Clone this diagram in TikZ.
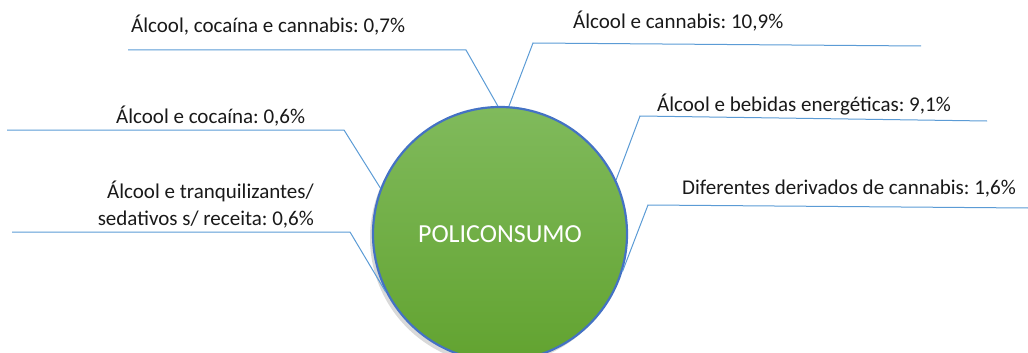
\documentclass[tikz,border=0pt]{standalone}
\usepackage{fontspec}
\setmainfont{Carlito}
\usetikzlibrary{shadows}
\definecolor{leaderblue}{RGB}{91,155,213}
\definecolor{rimblue}{RGB}{68,114,196}
\definecolor{topgreen}{RGB}{128,186,92}
\definecolor{botgreen}{RGB}{98,163,48}
\frenchspacing
\begin{document}
\begin{tikzpicture}[x=1pt,y=-1pt,
	leader/.style={leaderblue,line width=1pt},
	lbl/.style={inner sep=0pt,font=\fontsize{21}{27}\selectfont,text=black!90},
	hub/.style={circle,minimum size=254pt,inner sep=0pt,draw=rimblue,line width=2.2pt,
		top color=topgreen,bottom color=botgreen,text=white,
		font=\fontsize{26}{30}\selectfont,
		drop shadow={shadow xshift=-3pt,shadow yshift=-4pt,opacity=0.3}}]
\useasboundingbox (0,0) rectangle (1028,353);
\node (pc) [hub] at (500,234) {POLICONSUMO};
% labels
\node (t1) [lbl,anchor=base west] at (131,33) {Álcool, cocaína e cannabis: 0,7\%};
\node (t2) [lbl,anchor=base west] at (573,29) {Álcool e cannabis: 10,9\%};
\node (t3) [lbl,anchor=base west] at (657,111) {Álcool e bebidas energéticas: 9,1\%};
\node (t4) [lbl,anchor=base west] at (682,194) {Diferentes derivados de cannabis: 1,6\%};
\node (t5) [lbl,anchor=base west] at (116,123) {Álcool e cocaína: 0,6\%};
\node (t6) [lbl,anchor=base east,align=right] at (314,225) {Álcool e tranquilizantes/\\sedativos s/ receita: 0,6\%};
% leader lines
\coordinate (e1) at (466,50);  \coordinate (f1) at (128,50);
\coordinate (e2) at (533,43);  \coordinate (f2) at (921,46);
\coordinate (e3) at (640,116); \coordinate (f3) at (987,121);
\coordinate (e4) at (648,205); \coordinate (f4) at (1028,208);
\coordinate (e5) at (344,130); \coordinate (f5) at (7,130);
\coordinate (e6) at (350,232); \coordinate (f6) at (12,232);
\draw [leader] (pc.91) -- (e1) -- (f1);
\draw [leader] (pc.86) -- (e2) -- (f2);
\draw [leader] (pc.25) -- (e3) -- (f3);
\draw [leader] (pc.-17) -- (e4) -- (f4);
\draw [leader] (pc.159) -- (e5) -- (f5);
\draw [leader] (pc.207) -- (e6) -- (f6);
\end{tikzpicture}
\end{document}
